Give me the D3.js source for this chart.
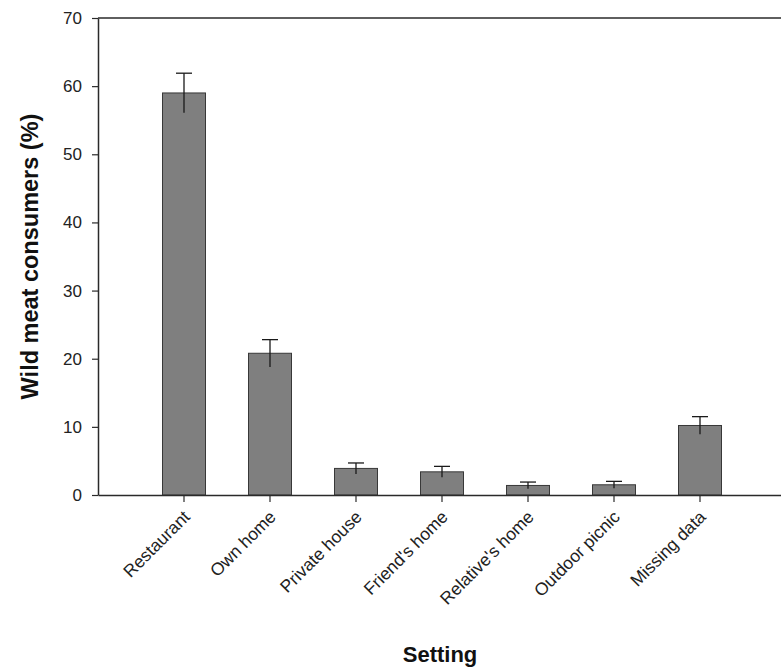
<!DOCTYPE html>
<html>
<head>
<meta charset="utf-8">
<script src="https://cdn.jsdelivr.net/npm/d3@7"></script>
<style>
  body { margin: 0; background: #fff; }
  svg { display: block; font-family: "Liberation Sans", Arial, sans-serif; }
</style>
</head>
<body>
<svg id="chart" width="781" height="669"></svg>
<script>
const categories = ["Restaurant", "Own home", "Private house", "Friend's home", "Relative's home", "Outdoor picnic", "Missing data"];
const values = [59.0, 20.8, 3.9, 3.4, 1.4, 1.5, 10.2];
const errors = [2.9, 2.0, 0.8, 0.8, 0.5, 0.5, 1.3];
const yTicks = [0, 10, 20, 30, 40, 50, 60, 70];
const xTitle = "Setting";
const yTitle = "Wild meat consumers (%)";

const svg = d3.select("#chart");
const pLeft = 98, pRight = 786, pTop = 18, pBottom = 495;

const x = d3.scaleBand().domain(categories).range([pLeft, pRight]).paddingInner(0.5).paddingOuter(0.75);
const y = d3.scaleLinear().domain([0, 70]).range([pBottom, pTop]);

const axisColor = "#2a2a2a";

// frame top and right
svg.append("line").attr("x1", pLeft).attr("x2", pRight).attr("y1", pTop).attr("y2", pTop)
  .attr("stroke", axisColor).attr("stroke-width", 1.5);
svg.append("line").attr("x1", pRight).attr("x2", pRight).attr("y1", pTop).attr("y2", pBottom)
  .attr("stroke", axisColor).attr("stroke-width", 1.5);

// bars
const data = categories.map((c, i) => ({c, v: values[i], e: errors[i]}));
svg.append("g").selectAll("rect").data(data).join("rect")
  .attr("x", d => x(d.c))
  .attr("y", d => y(d.v))
  .attr("width", x.bandwidth())
  .attr("height", d => y(0) - y(d.v))
  .attr("fill", "#7f7f7f")
  .attr("stroke", "#383838")
  .attr("stroke-width", 1);

// error bars
const eb = svg.append("g").attr("stroke", "#1a1a1a").attr("stroke-width", 1.3);
eb.selectAll("line.v").data(data).join("line").attr("class", "v")
  .attr("x1", d => x(d.c) + x.bandwidth() / 2).attr("x2", d => x(d.c) + x.bandwidth() / 2)
  .attr("y1", d => y(d.v - d.e)).attr("y2", d => y(d.v + d.e));
eb.selectAll("line.cap").data(data).join("line").attr("class", "cap")
  .attr("x1", d => x(d.c) + x.bandwidth() / 2 - 8).attr("x2", d => x(d.c) + x.bandwidth() / 2 + 8)
  .attr("y1", d => y(d.v + d.e)).attr("y2", d => y(d.v + d.e));

// y axis
const yAxis = svg.append("g").attr("transform", `translate(${pLeft},0)`)
  .call(d3.axisLeft(y).tickValues(yTicks).tickSize(6).tickSizeOuter(0).tickPadding(10));
yAxis.select(".domain").attr("stroke", axisColor).attr("stroke-width", 1.5);
yAxis.selectAll(".tick line").attr("stroke", axisColor).attr("stroke-width", 1.2);
yAxis.selectAll(".tick text").attr("font-size", 17).attr("fill", "#222")
  .attr("font-family", "Liberation Sans, Arial, sans-serif");

// x axis
const xAxis = svg.append("g").attr("transform", `translate(0,${pBottom})`)
  .call(d3.axisBottom(x).tickSize(7).tickSizeOuter(0));
xAxis.select(".domain").attr("stroke", axisColor).attr("stroke-width", 1.5);
xAxis.selectAll(".tick line").attr("stroke", axisColor).attr("stroke-width", 1.2);
xAxis.selectAll(".tick text")
  .attr("font-size", 17.5).attr("fill", "#222")
  .attr("font-family", "Liberation Sans, Arial, sans-serif")
  .attr("text-anchor", "end")
  .attr("dy", null)
  .attr("y", null)
  .attr("transform", "translate(7,23) rotate(-45)");

// titles
svg.append("text").attr("x", (pLeft + pRight) / 2 - 2).attr("y", 662)
  .attr("text-anchor", "middle").attr("font-size", 22).attr("font-weight", "bold").attr("fill", "#111")
  .text(xTitle);
svg.append("text").attr("transform", `translate(38,${(pTop + pBottom) / 2}) rotate(-90)`)
  .attr("text-anchor", "middle").attr("font-size", 23.5).attr("font-weight", "bold").attr("fill", "#111")
  .text(yTitle);
</script>
</body>
</html>
